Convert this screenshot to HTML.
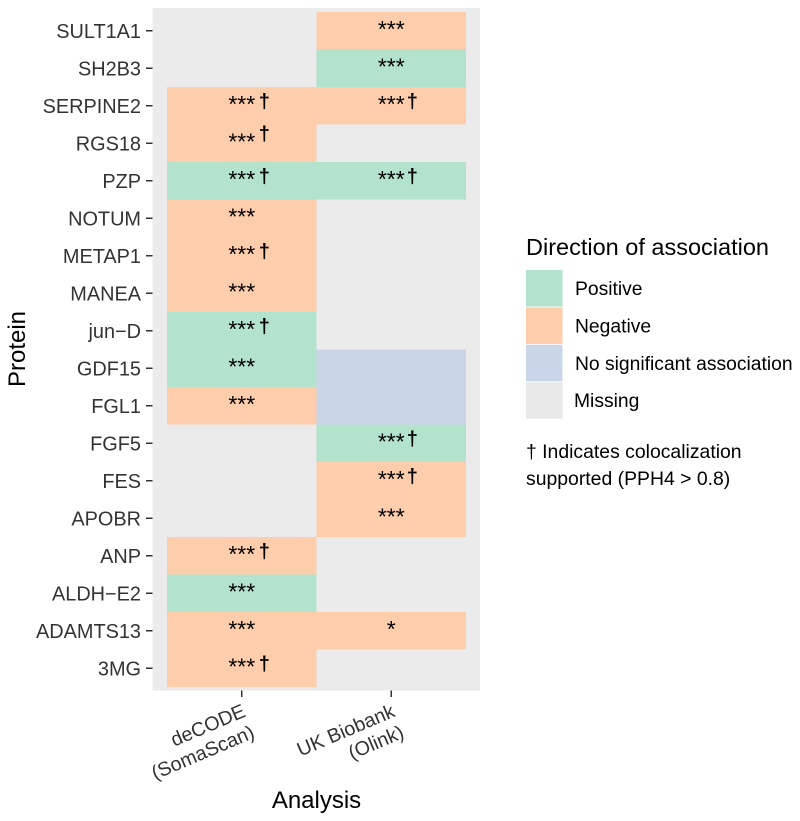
<!DOCTYPE html>
<html lang="en">
<head>
<meta charset="utf-8">
<title>Direction of association by protein</title>
<style>
html,body{margin:0;padding:0;background:#fff;}
svg{display:block;font-family:"Liberation Sans",Arial,sans-serif;}
</style>
</head>
<body>
<svg id="chart" xmlns="http://www.w3.org/2000/svg" width="800" height="821" viewBox="0 0 800 821">
  <rect x="0" y="0" width="800" height="821" fill="#ffffff"/>
  <rect x="152.5" y="8" width="327.5" height="682.5" fill="#EBEBEB"/>
  <g id="tiles"></g>
  <g id="marks"></g>
  <g id="y-axis"></g>
  <g id="x-axis"></g>
  <text transform="translate(25,349) rotate(-90)" text-anchor="middle" font-size="24" fill="#000">Protein</text>
  <text x="316.5" y="808" text-anchor="middle" font-size="24" fill="#000">Analysis</text>
  <g id="legend">
    <text x="526" y="255" font-size="23.5" fill="#000">Direction of association</text>
  </g>
  <g font-size="19.4" fill="#000">
    <text x="526" y="458">† Indicates colocalization</text>
    <text x="526" y="485">supported (PPH4 &gt; 0.8)</text>
  </g>
</svg>
<script>
var proteins = ["SULT1A1","SH2B3","SERPINE2","RGS18","PZP","NOTUM","METAP1","MANEA","jun\u2212D","GDF15","FGL1","FGF5","FES","APOBR","ANP","ALDH\u2212E2","ADAMTS13","3MG"];
var analysisLines = [["deCODE","(SomaScan)"],["UK Biobank","(Olink)"]];
var decodeDirection = ["","","neg","neg","pos","neg","neg","neg","pos","pos","neg","","","","neg","pos","neg","neg"];
var ukbDirection = ["neg","pos","neg","","pos","","","","","none","none","pos","neg","neg","","","neg",""];
var decodeStars = ["","","***","***","***","***","***","***","***","***","***","","","","***","***","***","***"];
var ukbStars = ["***","***","***","","***","","","","","","","***","***","***","","","*",""];
var decodeDagger = [0,0,1,2,1,0,1,0,1,0,0,0,0,0,1,0,0,1];
var ukbDagger = [0,0,1,0,1,0,0,0,0,0,0,1,1,0,0,0,0,0];
var legendKeys = ["pos","neg","none","missing"];
var legendLabels = ["Positive","Negative","No significant association","Missing"];

var NS = "http://www.w3.org/2000/svg";
var fills = {pos:"#B3E2CD",neg:"#FDCDAC",none:"#CBD5E8",missing:"#E9E9E9"};
var panelTop = 12, rowH = 37.5, colLeft = 167, colW = 149.5;
function yScale(i){ return panelTop + rowH * i; }
function xScale(c){ return colLeft + colW * c; }
function make(tag, attrs, parent, txt){
  var el = document.createElementNS(NS, tag);
  for (var k in attrs) el.setAttribute(k, attrs[k]);
  if (txt !== undefined) el.textContent = txt;
  parent.appendChild(el);
  return el;
}
var gTiles = document.getElementById("tiles");
var gMarks = document.getElementById("marks");
var gY = document.getElementById("y-axis");
var gX = document.getElementById("x-axis");
var gLegend = document.getElementById("legend");
var directionByCol = [decodeDirection, ukbDirection];
var starsByCol = [decodeStars, ukbStars];
var daggerByCol = [decodeDagger, ukbDagger];

proteins.forEach(function(name, i){
  var cy = yScale(i) + rowH / 2;
  var tick = make("line", {x1:146, x2:152.5, y1:cy, y2:cy, stroke:"#333", "stroke-width":1.5}, gY);
  
  
  var label = make("text", {x:141, y:cy + 7, "text-anchor":"end", "font-size":19.9, fill:"#333"}, gY, name);
  
  
  for (var c = 0; c < 2; c++){
    var d = directionByCol[c][i];
    var cx = xScale(c) + colW / 2;
    if (d){
      var tile = make("rect", {x:xScale(c), y:yScale(i), width:colW, height:rowH, fill:fills[d]}, gTiles);
      
      
    }
    if (starsByCol[c][i]){
      var st = make("text", {x:cx, y:cy + 6, "text-anchor":"middle", "font-size":23, fill:"#000"}, gMarks, starsByCol[c][i]);
      
      
    }
    var dg = daggerByCol[c][i];
    if (dg){
      var dag = make("text", {x:cx + (c ? 21 : 22.5), y:cy + (dg === 2 ? -3 : 2), "text-anchor":"middle", "font-size":20, "font-weight":"bold", fill:"#000"}, gMarks, "\u2020");
      
      
    }
  }
});

analysisLines.forEach(function(lines, c){
  var cx = xScale(c) + colW / 2;
  var tick = make("line", {x1:cx, x2:cx, y1:690.5, y2:697, stroke:"#333", "stroke-width":1.5}, gX);
  
  
  var g = make("g", {transform:"translate(" + (cx + 5) + ",716) rotate(-23)"}, gX);
  
  
  lines.forEach(function(t, j){
    var line = make("text", {x:0, y:j * 23, "text-anchor":"end", "font-size":19.7, fill:"#333"}, g, t);
    
    
  });
});

legendKeys.forEach(function(k, i){
  var top = 270 + 37.4 * i;
  var key = make("rect", {x:526, y:top, width:36.5, height:36.5, fill:fills[k]}, gLegend);
  
  
  var lab = make("text", {x:i === 3 ? 574 : 575, y:top + 25, "font-size":19.3, fill:"#000"}, gLegend, legendLabels[i]);
  
  
});
</script>
</body>
</html>
